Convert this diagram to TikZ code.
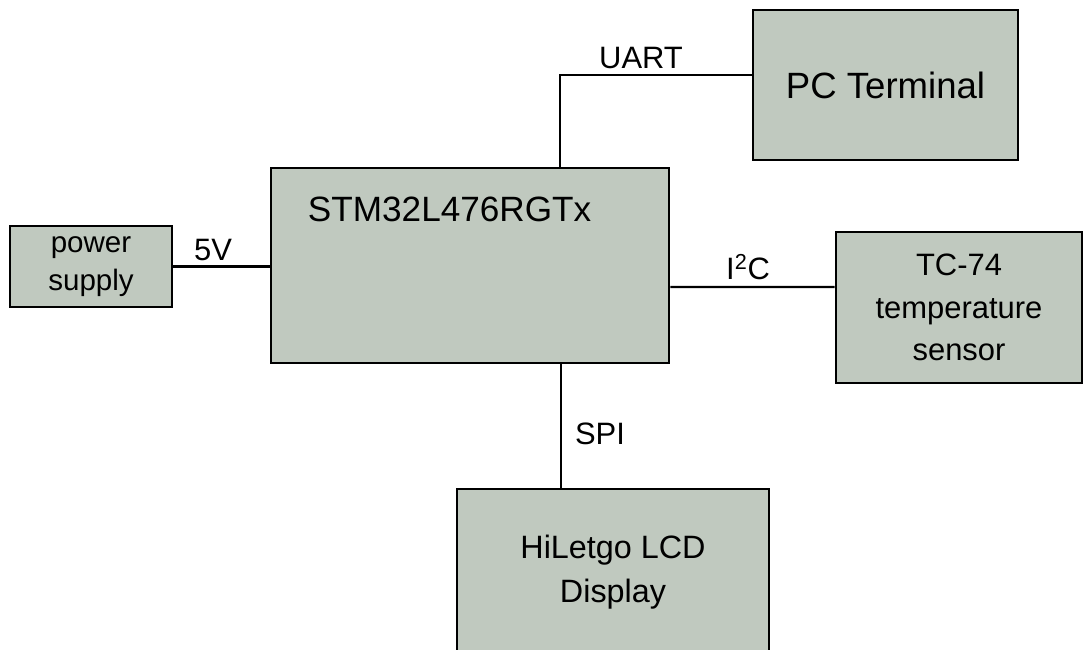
\documentclass[tikz,border=0pt]{standalone}
\usepackage{fontspec}
\setmainfont{Liberation Sans}
\usepackage{tikz}
\usetikzlibrary{calc}
\definecolor{boxfill}{RGB}{192,201,191}

\begin{document}
\begin{tikzpicture}[x=0.025cm, y=-0.025cm,
  block/.style={draw=black, line width=2pt, fill=boxfill, inner sep=0pt,
                align=center, font=\fontsize{23}{31}\selectfont},
  wire/.style={line width=1.5pt},
  lbl/.style={font=\fontsize{22}{26}\selectfont, inner sep=1pt}]

  \useasboundingbox (0,0) rectangle (1084,650);

  % --- the blocks ------------------------------------------------------------
  \node[block, minimum width=9.95cm, minimum height=4.875cm] (mcu) at (470,265.5) {};
  \node[font=\fontsize{25}{29}\selectfont, anchor=west] (mcuname) at (303,209) {STM32L476RGTx};

  \node[block, minimum width=6.625cm, minimum height=3.75cm, font=\fontsize{26}{30}\selectfont]
    (pc) at (885.5,85) {PC Terminal};
  \node[block, minimum width=4.05cm, minimum height=2.025cm, font=\fontsize{21}{27}\selectfont]
    (psu) at (91,266.5) {power\\supply};
  \node[block, minimum width=6.15cm, minimum height=3.775cm, font=\fontsize{22}{30}\selectfont]
    (tc) at (959,307.5) {TC-74\\temperature\\sensor};
  \node[block, minimum width=7.8cm, minimum height=4.275cm, text depth=3mm] (lcd) at (613,574.5)
    {HiLetgo LCD\\Display};

  % --- connections -------------------------------------------------------------
  \coordinate (uartup) at ([xshift=2.25cm]mcu.north);
  \draw[wire] (uartup) |- ($(pc.west)+(0,-10)$);
  \draw[wire] (psu.east) -- (psu.east -| mcu.west);
  \draw[wire] ($(mcu.east)+(0,21.5)$) -- ($(tc.west)+(0,-20.5)$);
  \draw[wire] ([xshift=2.275cm]mcu.south) -- ([xshift=2.275cm]mcu.south |- lcd.north);

  % --- bus labels -------------------------------------------------------------
  \node[lbl] (uart) at (641,58) {UART};
  \node[lbl] (five) at (213,250) {5V};
  \node[lbl] (iic) at (748,267) {I\textsuperscript{2}C};
  \node[lbl] (spi) at (600,434) {SPI};

\end{tikzpicture}
\end{document}
